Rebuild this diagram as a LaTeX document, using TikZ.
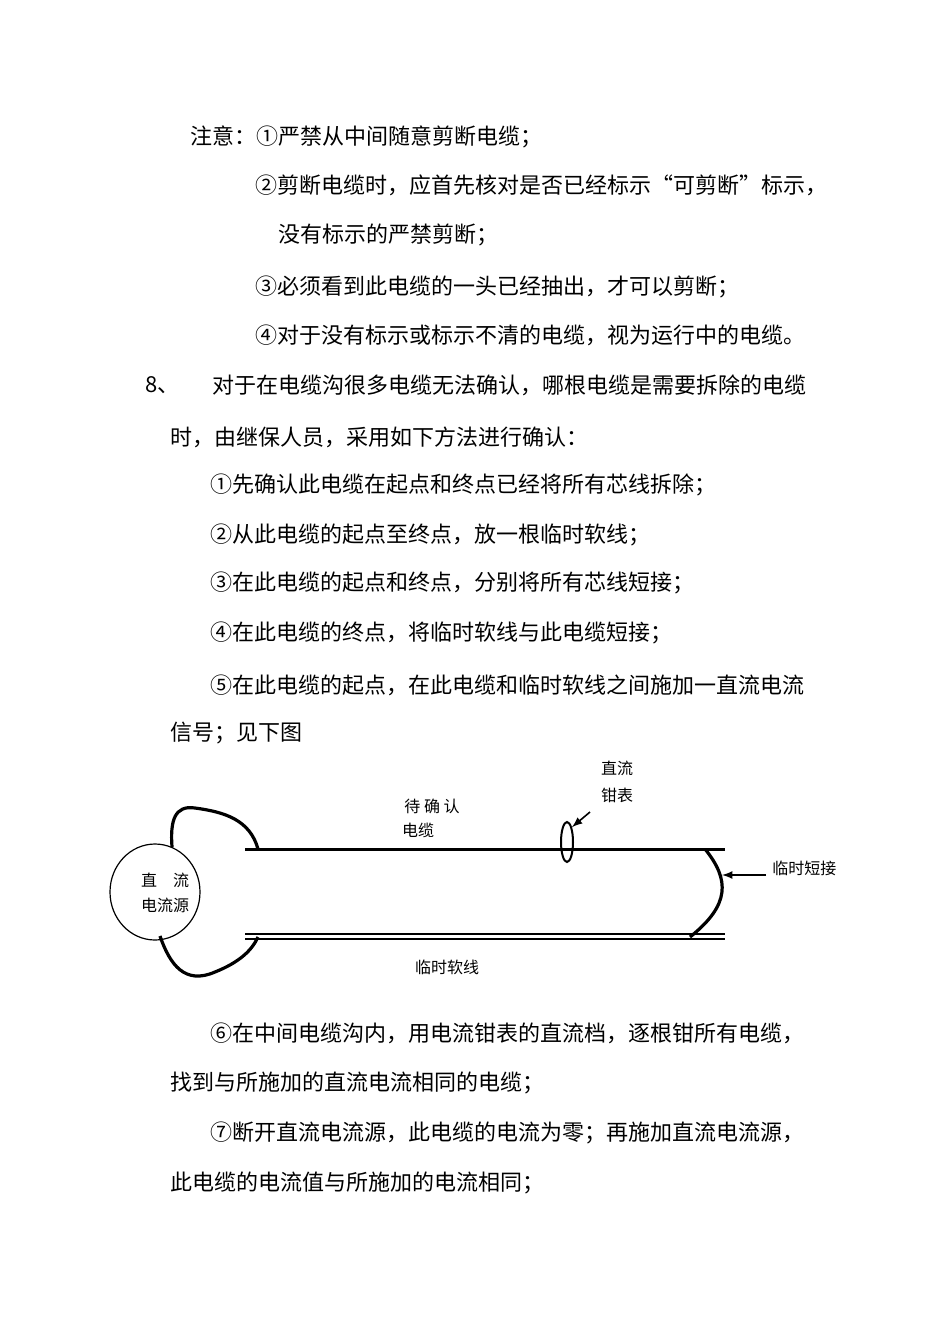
\documentclass[tikz,border=0pt]{standalone}
\usetikzlibrary{shapes.geometric}
\usepackage{fontspec}
\setmainfont{Noto Sans CJK SC}
\begin{document}
\begin{tikzpicture}[x=0.5pt,y=-0.5pt,
 txt/.style={anchor=west,inner sep=0pt,font=\fontsize{11}{13}\selectfont},
 lbl/.style={inner sep=0pt,font=\fontsize{8}{10}\selectfont},
 thick line/.style={line width=1.6pt},
 wire/.style={line width=1.1pt}]
\useasboundingbox (0,0) rectangle (950,1344);
\node[txt] (l1) at (190,137) {注意：①严禁从中间随意剪断电缆；};
\node[txt] (l2) at (255,185) {②剪断电缆时，应首先核对是否已经标示“可剪断”标示，};
\node[txt] (l3) at (278,235) {没有标示的严禁剪断；};
\node[txt] (l4) at (255,287) {③必须看到此电缆的一头已经抽出，才可以剪断；};
\node[txt] (l5) at (255,335) {④对于没有标示或标示不清的电缆，视为运行中的电缆。};
\node[txt] (l6a) at (145,385) {8、};
\node[txt] (l6) at (212,385) {对于在电缆沟很多电缆无法确认，哪根电缆是需要拆除的电缆};
\node[txt] (l7) at (170,437) {时，由继保人员，采用如下方法进行确认：};
\node[txt] (l8) at (210,485) {①先确认此电缆在起点和终点已经将所有芯线拆除；};
\node[txt] (l9) at (210,535) {②从此电缆的起点至终点，放一根临时软线；};
\node[txt] (l10) at (210,583) {③在此电缆的起点和终点，分别将所有芯线短接；};
\node[txt] (l11) at (210,633) {④在此电缆的终点，将临时软线与此电缆短接；};
\node[txt] (l12) at (210,685) {⑤在此电缆的起点，在此电缆和临时软线之间施加一直流电流};
\node[txt] (l13) at (170,733) {信号；见下图};
\node[txt] (l14) at (210,1033) {⑥在中间电缆沟内，用电流钳表的直流档，逐根钳所有电缆，};
\node[txt] (l15) at (170,1083) {找到与所施加的直流电流相同的电缆；};
\node[txt] (l16) at (210,1133) {⑦断开直流电流源，此电缆的电流为零；再施加直流电流源，};
\node[txt] (l17) at (170,1183) {此电缆的电流值与所施加的电流相同；};
% diagram
\node[draw,ellipse,minimum width=45pt,minimum height=48pt,inner sep=0pt,line width=0.6pt] (src) at (155,892) {};
\node[lbl] (s1) at (165,880) {直\quad 流};
\node[lbl] (s2) at (165,905) {电流源};
\coordinate (ctl) at (245,849); \coordinate (ctr) at (725,849);
\coordinate (cbl) at (245,937); \coordinate (cbr) at (725,937);
\draw[line width=1.5pt] (ctl) -- (ctr);
\draw[line width=0.6pt] ([yshift=-1pt]cbl) -- ([yshift=-1pt]cbr);
\draw[line width=0.6pt] ([yshift=1.5pt]cbl) -- ([yshift=1.5pt]cbr);
\draw[thick line] (172,847) .. controls (170,820) and (175,805) .. (195,808) .. controls (225,812) and (250,820) .. (258,849);
\draw[thick line] (160,936) .. controls (170,965) and (185,985) .. (215,972) .. controls (240,962) and (252,950) .. (258,937);
\draw[thick line] (705,849) .. controls (730,880) and (730,905) .. (690,937);
\node[draw,ellipse,minimum width=6pt,minimum height=20pt,inner sep=0pt,line width=1pt] (clamp) at (567,842) {};
\coordinate (ca) at (590,812);
\draw[-latex,line width=0.8pt] (ca) -- (clamp.north east);
\node[lbl] (c1) at (617,768) {直流};
\node[lbl] (c2) at (617,795) {钳表};
\node[lbl] (w1) at (432,806) {待\ 确\ 认};
\node[lbl] (w2) at (418,830) {电缆};
\node[lbl,anchor=west] (sh) at (772,868) {临时短接};
\coordinate (sha) at (722,875);
\draw[-latex,line width=0.8pt] (766,875) -- (sha);
\node[lbl] (t) at (447,967) {临时软线};
\end{tikzpicture}
\end{document}
